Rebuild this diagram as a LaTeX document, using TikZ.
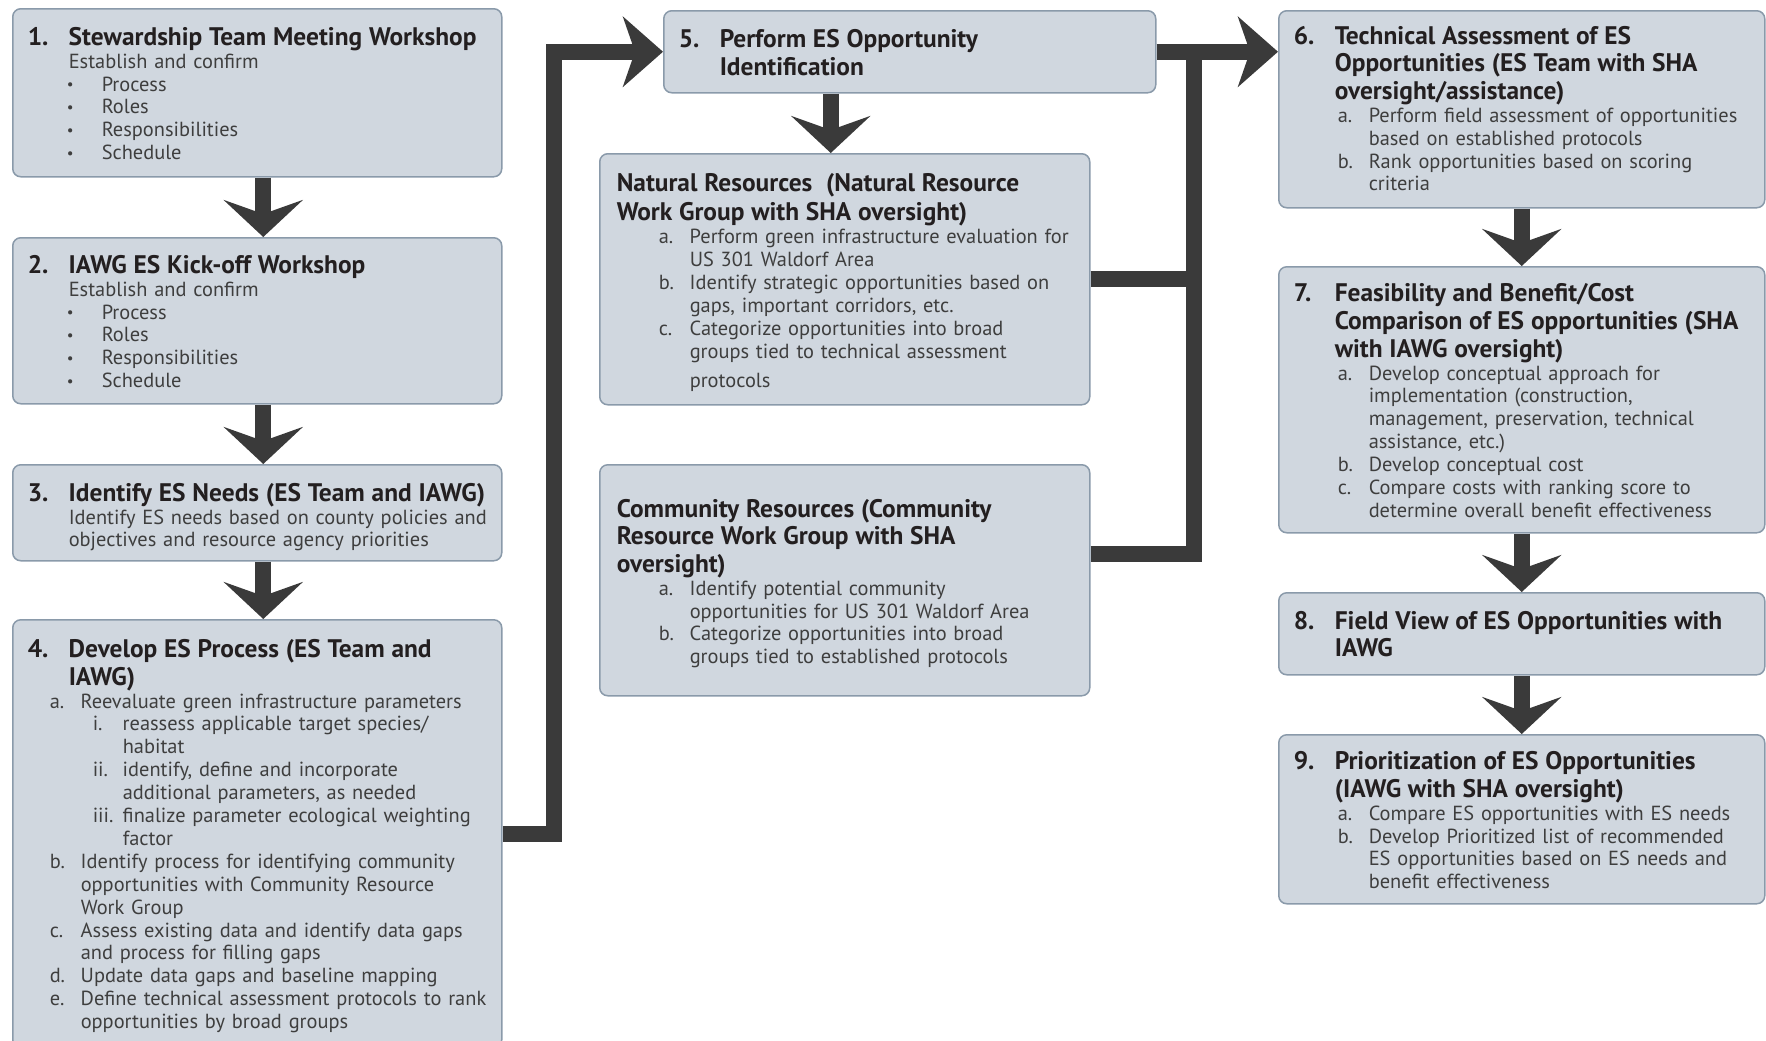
\documentclass[tikz,border=0pt]{standalone}
\usepackage{fontspec}
\setmainfont{PT Sans}
\usetikzlibrary{positioning,arrows.meta}

\definecolor{boxfill}{RGB}{208,215,223}
\definecolor{boxline}{RGB}{138,154,170}
\definecolor{flowgray}{RGB}{58,58,58}
\definecolor{bodytext}{RGB}{62,62,62}
\definecolor{headtext}{RGB}{35,31,32}

\newcommand{\bodyfont}{\fontsize{10.2pt}{11.45pt}\selectfont}
\newcommand{\headfont}{\fontsize{12.7pt}{13.8pt}\selectfont\bfseries\color{headtext}}
% one row of a box: text indent, label width, label, text
\newcommand{\listrow}[4]{\par\leftskip=#1\relax\rightskip=-8pt plus 1fil\relax
  \noindent\llap{\makebox[#2][l]{#3}}#4\par}
\newcommand{\stephead}[2]{{\headfont\listrow{19.5pt}{20.5pt}{#1}{#2}}}
\newcommand{\grouphead}[1]{{\headfont\listrow{0pt}{0pt}{}{#1}}}
\newcommand{\stepnote}[1]{\listrow{19.5pt}{0pt}{}{#1}}
\newcommand{\smallbullet}{\raisebox{0.6pt}{\fontsize{7.5pt}{0pt}\selectfont\textbullet}}
\newcommand{\bulletrow}[1]{\listrow{36pt}{17.5pt}{\smallbullet}{#1}}
\newcommand{\optrow}[2]{\listrow{36.5pt}{15.5pt}{#1}{#2}}
\newcommand{\procrow}[2]{\listrow{25.5pt}{15.5pt}{#1}{#2}}
\newcommand{\procsubrow}[2]{\listrow{46.5pt}{15pt}{#1}{#2}}
% space below the text of a box
\newcommand{\boxpadlen}{0pt}
\newcommand{\boxpad}[1]{\par\kern#1\relax}

\begin{document}
\begin{tikzpicture}[x=0.5pt, y=-0.5pt,
    pad/.code={\def\boxpadlen{#1}},
    box/.style={draw=boxline, fill=boxfill, line width=0.75pt, rounded corners=4pt,
      anchor=north west, inner xsep=8.5pt, inner ysep=0pt, align=left,
      font=\bodyfont, text=bodytext, pad=3.9pt, execute at end node={\boxpad{\boxpadlen}}},
    leftcol/.style={box, minimum width=244.5pt, text width=227.5pt},
    midcol/.style={box, minimum width=245pt, text width=228pt},
    rightcol/.style={box, minimum width=243pt, text width=226pt},
    link/.style={draw=flowgray, line width=8pt},
    flow/.style={link, -{Stealth[length=18.5pt, width=39.5pt, inset=7pt]}},
    sideflow/.style={link, -{Stealth[length=20pt, width=35pt, inset=6pt]}}
  ]
  \useasboundingbox (0,0) rectangle (1766,1040);
  \clip (0,0) rectangle (1766,1040);

  % left column
  \node[leftcol, minimum height=84pt] (s1) at (12,8) {%
    \stephead{1.}{Stewardship Team Meeting Workshop}
    \stepnote{Establish and confirm}
    \bulletrow{Process}
    \bulletrow{Roles}
    \bulletrow{Responsibilities}
    \bulletrow{Schedule}};
  \node[leftcol, minimum height=83pt] (s2) at (12,237) {%
    \stephead{2.}{IAWG ES Kick-off Workshop}
    \stepnote{Establish and confirm}
    \bulletrow{Process}
    \bulletrow{Roles}
    \bulletrow{Responsibilities}
    \bulletrow{Schedule}};
  \node[leftcol, minimum height=48pt, pad=0.4pt] (s3) at (12,464) {%
    \stephead{3.}{Identify ES Needs (ES Team and IAWG)}
    \stepnote{Identify ES needs based on county policies and\\
      objectives and resource agency priorities}};
  \node[leftcol, minimum height=214pt, pad=2.3pt] (s4) at (12,619) {%
    \stephead{4.}{Develop ES Process (ES Team and\\ IAWG)}
    \procrow{a.}{Reevaluate green infrastructure parameters}
    \procsubrow{i.}{reassess applicable target species/\\ habitat}
    \procsubrow{ii.}{identify, define and incorporate\\ additional parameters, as needed}
    \procsubrow{iii.}{finalize parameter ecological weighting\\ factor}
    \procrow{b.}{Identify process for identifying community\\
      opportunities with Community Resource\\ Work Group}
    \procrow{c.}{Assess existing data and identify data gaps\\ and process for filling gaps}
    \procrow{d.}{Update data gaps and baseline mapping}
    \procrow{e.}{Define technical assessment protocols to rank\\ opportunities by broad groups}};

  % middle column
  \node[box, minimum width=246pt, text width=229pt, minimum height=41pt] (s5) at (663,10) {%
    \stephead{5.}{Perform ES Opportunity\\ Identification}};
  \node[midcol, minimum height=125.5pt, pad=1.5pt] (nat) at (599,153) {%
    \grouphead{Natural Resources\ \ (Natural Resource\\[1pt] Work Group with SHA oversight)}
    \optrow{a.}{Perform green infrastructure evaluation for\\ US 301 Waldorf Area}
    \optrow{b.}{Identify strategic opportunities based on\\ gaps, important corridors, etc.}
    \optrow{c.}{Categorize opportunities into broad\\ groups tied to technical assessment\\[3.2pt] protocols}};
  \node[midcol, minimum height=115.5pt, pad=1.5pt] (com) at (599,464) {%
    \grouphead{Community Resources (Community\\ Resource Work Group with SHA\\ oversight)}
    \optrow{a.}{Identify potential community\\ opportunities for US 301 Waldorf Area}
    \optrow{b.}{Categorize opportunities into broad\\ groups tied to established protocols}};

  % right column
  \node[rightcol, minimum height=98.5pt, pad=5.4pt] (s6) at (1278,10) {%
    \stephead{6.}{Technical Assessment of ES\\ Opportunities (ES Team with SHA\\ oversight/assistance)}
    \optrow{a.}{Perform field assessment of opportunities\\ based on established protocols}
    \optrow{b.}{Rank opportunities based on scoring\\ criteria}};
  \node[rightcol, minimum height=133pt, pad=3.7pt] (s7) at (1278,266) {%
    \stephead{7.}{Feasibility and Benefit/Cost\\ Comparison of ES opportunities (SHA\\ with IAWG oversight)}
    \optrow{a.}{Develop conceptual approach for\\ implementation (construction,\\
      management, preservation, technical\\ assistance, etc.)}
    \optrow{b.}{Develop conceptual cost}
    \optrow{c.}{Compare costs with ranking score to\\ determine overall benefit effectiveness}};
  \node[rightcol, minimum height=41pt, pad=4.3pt] (s8) at (1278,592) {%
    \stephead{8.}{Field View of ES Opportunities with\\ IAWG}};
  \node[rightcol, minimum height=84.5pt, pad=3.7pt] (s9) at (1278,734) {%
    \stephead{9.}{Prioritization of ES Opportunities\\ (IAWG with SHA oversight)}
    \optrow{a.}{Compare ES opportunities with ES needs}
    \optrow{b.}{Develop Prioritized list of recommended\\
      ES opportunities based on ES needs and\\ benefit effectiveness}};

  % arrows
  \draw[flow] ([xshift=3pt]s1.south) -- ([xshift=3pt]s2.north);
  \draw[flow] ([xshift=3pt]s2.south) -- ([xshift=3pt]s3.north);
  \draw[flow] ([xshift=3pt]s3.south) -- ([xshift=3pt]s4.north);
  \draw[sideflow] (s4.east) -- ++(51,0) |- (s5.west);
  \draw[flow] ([xshift=-7pt]nat.north |- s5.south) -- ([xshift=-7pt]nat.north);
  \coordinate (join) at (1194,51);
  \draw[sideflow] (s5.east) -- (s6.west |- s5.east);
  \draw[link] (nat.east) -| (join);
  \draw[link] ([yshift=13pt]com.east) -| (join);
  \draw[flow] (s6) -- (s7);
  \draw[flow] (s7) -- (s8);
  \draw[flow] (s8) -- (s9);
\end{tikzpicture}
\end{document}
